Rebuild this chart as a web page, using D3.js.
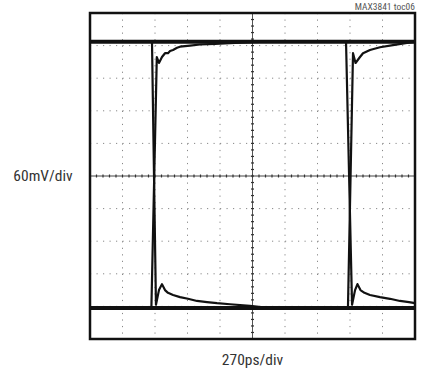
<!DOCTYPE html>
<html>
    <head>
        <meta charset="utf-8">
        <script src="https://d3js.org/d3.v7.min.js"></script>
        <title>MAX3841 toc06</title>
        <style>
            body {margin: 0; background-color: white;}
            text {font-family: "Liberation Sans Narrow", "Arial Narrow", "Roboto Condensed", sans-serif;}
        </style>
    </head>
    <body>
        <script>
            // time in ps (270 ps/div), amplitude in mV (60 mV/div)
            const timeDomain = [0, 2700]
            const voltDomain = [-300, 300]
            const timePerDiv = 270
            const voltPerDiv = 60

            const flatHigh = [[0, 247], [2700, 247]]
            const flatLow = [[0, -243], [2700, -243]]

            // high -> low -> high
            const traceA = [[0, 247], [515, 247], [548, -237], [573, -210], [598, -199], [623, -210],
                [648, -215], [690, -219], [748, -223], [814, -226], [889, -230], [972, -232],
                [1055, -234], [1163, -236], [1329, -239], [1495, -243], [2143, -243], [2185, 226],
                [2206, 208], [2243, 219], [2268, 226], [2326, 232], [2409, 237], [2517, 241],
                [2634, 245], [2700, 247]]

            // low -> high -> low
            const traceB = [[0, -243], [510, -243], [555, 219], [573, 208], [598, 219], [623, 226],
                [648, 226], [665, 230], [690, 232], [723, 236], [748, 238], [789, 239], [831, 240],
                [914, 242], [1038, 243], [1205, 245], [1412, 247], [2127, 247], [2177, -237],
                [2202, -210], [2222, -199], [2247, -210], [2280, -215], [2326, -219], [2409, -223],
                [2492, -226], [2575, -230], [2650, -232], [2700, -234]]

            const width = 424
            const height = 372
            const margin = {top: 13, right: 9, bottom: 33, left: 90}

            const svg = d3.select('body')
                .append('svg')
                    .attr('width', width)
                    .attr('height', height)

            const x = d3.scaleLinear().domain(timeDomain).range([margin.left, width - margin.right])
            const y = d3.scaleLinear().domain(voltDomain).range([height - margin.bottom, margin.top])

            const grid = svg.append('g')
            const xDivs = d3.range(timeDomain[0] + timePerDiv, timeDomain[1], timePerDiv)
            const yDivs = d3.range(voltDomain[0] + voltPerDiv, voltDomain[1], voltPerDiv)

            grid.selectAll('.vgrid')
                .data(xDivs.filter(d => d !== 1350))
                .enter()
                .append('line')
                    .attr('x1', d => x(d)).attr('x2', d => x(d))
                    .attr('y1', y(300)).attr('y2', y(-300))
                    .attr('stroke', '#888')
                    .attr('stroke-width', 1)
                    .attr('stroke-dasharray', '1.2,5.32')

            grid.selectAll('.hgrid')
                .data(yDivs.filter(d => d !== 0))
                .enter()
                .append('line')
                    .attr('y1', d => y(d)).attr('y2', d => y(d))
                    .attr('x1', x(0)).attr('x2', x(2700))
                    .attr('stroke', '#888')
                    .attr('stroke-width', 1)
                    .attr('stroke-dasharray', '1.2,5.3')

            // centre axes with minor ticks
            grid.append('line')
                .attr('x1', x(0)).attr('x2', x(2700))
                .attr('y1', y(0)).attr('y2', y(0))
                .attr('stroke', '#444').attr('stroke-width', 1)
            grid.append('line')
                .attr('x1', x(1350)).attr('x2', x(1350))
                .attr('y1', y(300)).attr('y2', y(-300))
                .attr('stroke', '#555').attr('stroke-width', 1)

            grid.selectAll('.xtick')
                .data(d3.range(0, 2701, timePerDiv / 5))
                .enter()
                .append('line')
                    .attr('x1', d => x(d)).attr('x2', d => x(d))
                    .attr('y1', y(0) - 1.5).attr('y2', y(0) + 1.5)
                    .attr('stroke', '#333').attr('stroke-width', 1.2)
            grid.selectAll('.ytick')
                .data(d3.range(-300, 301, voltPerDiv / 5))
                .enter()
                .append('line')
                    .attr('y1', d => y(d)).attr('y2', d => y(d))
                    .attr('x1', x(1350) - 1.5).attr('x2', x(1350) + 1.5)
                    .attr('stroke', '#333').attr('stroke-width', 1.2)

            const line = d3.line().x(d => x(d[0])).y(d => y(d[1]))

            svg.selectAll('.flat')
                .data([flatHigh, flatLow])
                .enter()
                .append('path')
                    .attr('d', line)
                    .attr('fill', 'none')
                    .attr('stroke', '#111')
                    .attr('stroke-width', 4)

            svg.selectAll('.trace')
                .data([traceA, traceB])
                .enter()
                .append('path')
                    .attr('d', line)
                    .attr('fill', 'none')
                    .attr('stroke', '#111')
                    .attr('stroke-width', 2.2)
                    .attr('stroke-linejoin', 'round')

            svg.append('rect')
                .attr('x', x(0)).attr('y', y(300))
                .attr('width', x(2700) - x(0)).attr('height', y(-300) - y(300))
                .attr('fill', 'none')
                .attr('stroke', '#111')
                .attr('stroke-width', 2.5)

            svg.append('text')
                .attr('x', x(2700)).attr('y', 10)
                .attr('text-anchor', 'end')
                .attr('font-size', 9.5)
                .attr('fill', '#555')
                .text('MAX3841 toc06')

            svg.append('text')
                .attr('x', 43).attr('y', y(0) + 5)
                .attr('text-anchor', 'middle')
                .attr('font-size', 15.5)
                .attr('fill', '#333')
                .text('60mV/div')

            svg.append('text')
                .attr('x', x(1350)).attr('y', 365)
                .attr('text-anchor', 'middle')
                .attr('font-size', 15.5)
                .attr('fill', '#333')
                .text('270ps/div')
        </script>
    </body>
</html>
